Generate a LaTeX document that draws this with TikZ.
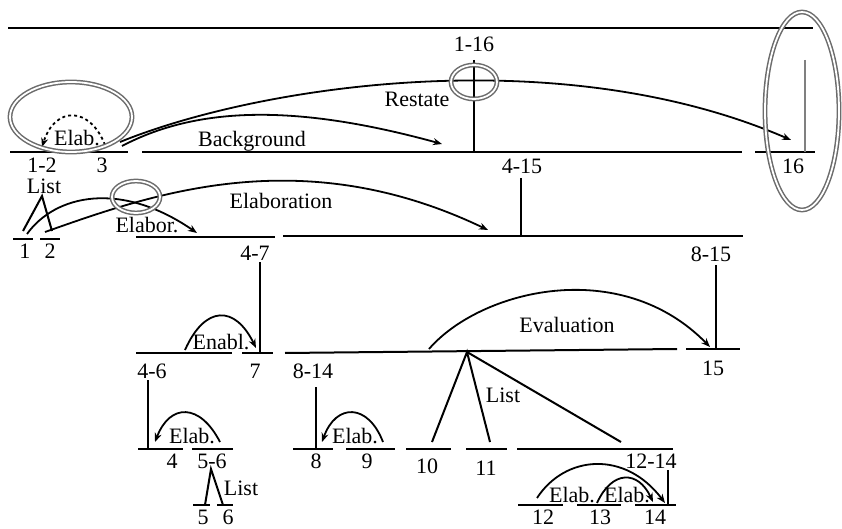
\documentclass[tikz,border=0pt]{standalone}
\usepackage{fontspec}
\setmainfont{Liberation Serif}
\usetikzlibrary{arrows.meta}

\begin{document}
\begin{tikzpicture}[x=1pt, y=-1pt, >={Stealth[length=9pt, width=7pt]},
    seg/.style={line width=2pt},
    rel/.style={->, line width=1.8pt},
    ring/.style={draw=gray!85!black, double=white, double distance=1.8pt, line width=1.5pt},
    lbl/.style={anchor=base, inner sep=0pt, font=\fontsize{22}{24}\selectfont}]
    \useasboundingbox (0,0) rectangle (842,529);

    % Ligne du haut
    \draw[seg] (8,28) coordinate (T1) -- (813,28) coordinate (T2);

    % Niveau 1 : 1-2, 3, 4-15, 16
    \draw[seg] (10,152) coordinate (A12) -- (65,152) coordinate (B12);
    \draw[seg] (80,152) coordinate (A3) -- (128,152) coordinate (B3);
    \draw[seg] (142,152) coordinate (A415) -- (742,152) coordinate (B415);
    \draw[seg] (755,152) coordinate (A16) -- (815,152) coordinate (B16);
    \node[lbl] (L116) at (474,52) {1-16};
    \coordinate (V116) at (474,60);
    \draw[seg] (V116) -- (V116 |- A415);
    \coordinate (V16) at (805,60);
    \draw[line width=2pt, gray] (V16) -- (V16 |- A16);
    \node[lbl] (L12) at (42,173) {1-2};
    \node[lbl] (L3) at (102,173) {3};
    \node[lbl] (L16) at (793,174) {16};

    % Relations du niveau 1
    \coordinate (E3) at (105,145);
    \coordinate (E12) at (42,147);
    \draw[rel, dashed] (E3) .. controls (90,106) and (55,106) .. (E12);
    \node[lbl] (LE0) at (77,146) {Elab.};
    \coordinate (R3) at (120,142);
    \coordinate (R16) at (791,140);
    \draw[rel] (R3) .. controls (260,85) and (560,40) .. (R16);
    \node[lbl] (LR) at (417,107) {Restate};
    \coordinate (G3) at (122,146);
    \coordinate (G415) at (442,144);
    \draw[rel] (G3) .. controls (200,105) and (300,105) .. (G415);
    \node[lbl] (LG) at (252,147) {Background};

    % Niveau 2 : 1, 2, 4-7, 8-15
    \draw[seg] (13,239) coordinate (A1) -- (33,239) coordinate (B1);
    \draw[seg] (40,239) coordinate (A2) -- (60,239) coordinate (B2);
    \draw[seg] (136,237) coordinate (A47) -- (275,237) coordinate (B47);
    \draw[seg] (283,236) coordinate (A815) -- (743,236) coordinate (B815);
    \node[lbl] (L415) at (522,174) {4-15};
    \coordinate (V415) at (521,178);
    \draw[seg] (V415) -- (V415 |- A815);
    \node[lbl] (L1) at (25,258) {1};
    \node[lbl] (L2) at (50,258) {2};

    % List 1, 2
    \coordinate (P12) at (42,196);
    \coordinate (F1) at (23,231);
    \coordinate (F2) at (52,231);
    \draw[seg] (F1) -- (P12) -- (F2);
    \node[lbl] (LL0) at (44,194) {List};

    % Elaborations vers 4-7 et 4-15
    \coordinate (E1) at (27,234);
    \coordinate (E47) at (197,233);
    \draw[rel] (E1) .. controls (55,195) and (120,180) .. (E47);
    \node[lbl] (LE1) at (147,233) {Elabor.};
    \coordinate (E2) at (45,232);
    \coordinate (E415) at (488,230);
    \draw[rel] (E2) .. controls (150,195) and (300,140) .. (E415);
    \node[lbl] (LE2) at (281,209) {Elaboration};

    % Niveau 3 : 4-6, 7, 8-14, 15
    \draw[seg] (136,353) coordinate (A46) -- (232,353) coordinate (B46);
    \draw[seg] (242,353) coordinate (A7) -- (273,353) coordinate (B7);
    \draw[seg] (285,353) coordinate (A814) -- (677,349) coordinate (B814);
    \draw[seg] (686,349) coordinate (A15) -- (740,349) coordinate (B15);
    \node[lbl] (L47) at (255,260) {4-7};
    \coordinate (V47) at (260,262);
    \draw[seg] (V47) -- (V47 |- A46);
    \node[lbl] (L815) at (711,261) {8-15};
    \coordinate (V815) at (716,265);
    \draw[seg] (V815) -- (V815 |- A15);
    \node[lbl] (L46) at (152,378) {4-6};
    \node[lbl] (L7) at (255,378) {7};
    \node[lbl] (L814) at (313,378) {8-14};
    \node[lbl] (L15) at (713,375) {15};

    % Enablement et Evaluation
    \coordinate (N46) at (185,350);
    \coordinate (N7) at (256,348);
    \draw[rel] (N46) .. controls (205,305) and (235,305) .. (N7);
    \node[lbl] (LN) at (221,349) {Enabl.};
    \coordinate (V814) at (429,349);
    \coordinate (V15) at (710,347);
    \draw[rel] (V814) .. controls (480,290) and (620,255) .. (V15);
    \node[lbl] (LV) at (567,332) {Evaluation};

    % Niveau 4 : 4, 5-6, 8, 9, 10, 11, 12-14
    \draw[seg] (138,449) coordinate (A4) -- (183,449) coordinate (B4);
    \draw[seg] (192,449) coordinate (A56) -- (233,449) coordinate (B56);
    \draw[seg] (293,449) coordinate (A8) -- (333,449) coordinate (B8);
    \draw[seg] (346,449) coordinate (A9) -- (395,449) coordinate (B9);
    \draw[seg] (406,449) coordinate (A10) -- (451,449) coordinate (B10);
    \draw[seg] (466,449) coordinate (A11) -- (507,449) coordinate (B11);
    \draw[seg] (517,449) coordinate (A1214) -- (673,449) coordinate (B1214);
    \coordinate (V46) at (148,380);
    \draw[seg] (V46) -- (V46 |- A4);
    \coordinate (V8) at (316,387);
    \draw[seg] (V8) -- (V8 |- A8);
    \node[lbl] (L4) at (172,468) {4};
    \node[lbl] (L56) at (212,468) {5-6};
    \node[lbl] (L8) at (316,468) {8};
    \node[lbl] (L9) at (367,468) {9};
    \node[lbl] (L10) at (427,473) {10};
    \node[lbl] (L11) at (486,475) {11};
    \node[lbl] (L1214) at (651,468) {12-14};

    % List 10, 11, 12-14
    \coordinate (P814) at (467,352);
    \coordinate (F10) at (432,442);
    \coordinate (F11) at (490,442);
    \coordinate (F1214) at (621,442);
    \draw[seg] (F10) -- (P814) -- (F11);
    \draw[seg] (P814) -- (F1214);
    \node[lbl] (LL1) at (503,402) {List};

    % Elab. 5-6 -> 4 et 9 -> 8
    \coordinate (E56) at (220,442);
    \coordinate (E4) at (155,442);
    \draw[rel] (E56) .. controls (200,403) and (170,403) .. (E4);
    \node[lbl] (LE3) at (192,443) {Elab.};
    \coordinate (E9) at (383,442);
    \coordinate (E8) at (322,442);
    \draw[rel] (E9) .. controls (368,403) and (336,403) .. (E8);
    \node[lbl] (LE4) at (355,443) {Elab.};

    % Niveau 5 : 5, 6, 12, 13, 14
    \draw[seg] (193,505) coordinate (A5) -- (210,505) coordinate (B5);
    \draw[seg] (217,505) coordinate (A6) -- (233,505) coordinate (B6);
    \draw[seg] (518,505) coordinate (A12) -- (563,505) coordinate (B12x);
    \draw[seg] (577,505) coordinate (A13) -- (621,505) coordinate (B13);
    \draw[seg] (635,505) coordinate (A14) -- (676,505) coordinate (B14);
    \coordinate (V1214) at (668,470);
    \draw[seg] (V1214) -- (V1214 |- A14);
    \node[lbl] (L5) at (203,524) {5};
    \node[lbl] (L6) at (228,524) {6};
    \node[lbl] (L12x) at (543,524) {12};
    \node[lbl] (L13) at (600,524) {13};
    \node[lbl] (L14) at (655,524) {14};

    % List 5, 6
    \coordinate (P56) at (211,469);
    \coordinate (F5) at (205,505);
    \coordinate (F6) at (223,505);
    \draw[seg] (F5) -- (P56) -- (F6);
    \node[lbl] (LL2) at (241,495) {List};

    % Elab. 12 -> 14 et 13 -> 14
    \coordinate (E12x) at (537,498);
    \coordinate (E14a) at (665,503);
    \draw[rel] (E12x) .. controls (565,455) and (625,450) .. (E14a);
    \node[lbl] (LE5) at (572,502) {Elab.};
    \coordinate (E13) at (597,503);
    \coordinate (E14b) at (653,502);
    \draw[rel] (E13) .. controls (612,470) and (638,470) .. (E14b);
    \node[lbl] (LE6) at (627,502) {Elab.};

    % Ellipses de mise en evidence
    \draw[ring] (71,117) ellipse [x radius=61, y radius=35];
    \draw[ring] (474,82) ellipse [x radius=23, y radius=17];
    \draw[ring] (802,111) ellipse [x radius=37, y radius=99];
    \draw[ring] (136,197) ellipse [x radius=24, y radius=16];
\end{tikzpicture}
\end{document}
